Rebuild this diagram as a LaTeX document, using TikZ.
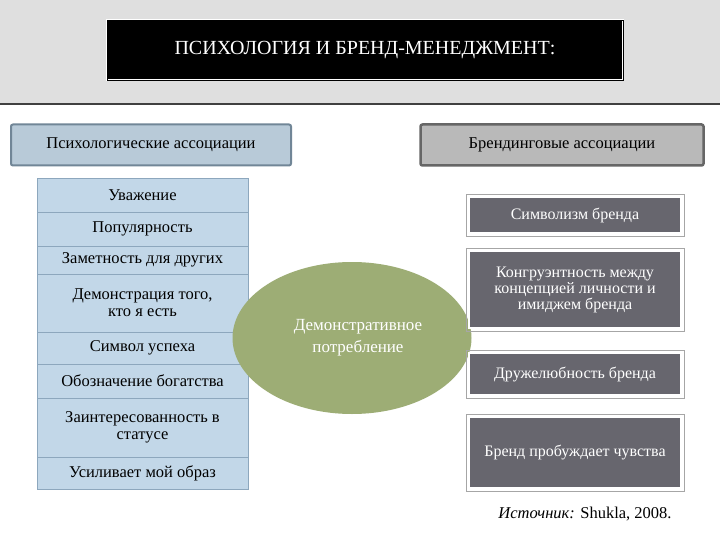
\documentclass[tikz,border=0pt]{standalone}
\usepackage{fontspec}
\setmainfont{Liberation Serif}
\usetikzlibrary{shapes.geometric}
\begin{document}
\begin{tikzpicture}[x=1pt,y=-1pt,
  row/.style={draw=bord,fill=lblue,minimum width=211pt,inner sep=0pt,align=center,font=\fontsize{16.5}{17}\selectfont},
  rbox/.style={draw=white,line width=1.5pt,fill=dgray,text=white,minimum width=212pt,inner sep=0pt,align=center,font=\fontsize{16}{16}\selectfont},
  rout/.style={draw=gray!70,line width=0.6pt}]
\definecolor{lblue}{HTML}{C2D7E8}
\definecolor{bord}{HTML}{8DA7BD}
\definecolor{dgray}{HTML}{67666E}
\definecolor{olive}{HTML}{9DAD75}
\useasboundingbox (0,0) rectangle (720,540);
\fill[white] (0,0) rectangle (720,540);
\fill[gray!25] (0,0) rectangle (720,103);
\draw[line width=2.5pt,black!75] (0,104) -- (720,104);
\node[fill=black,draw=white,double=black,minimum width=516pt,minimum height=60pt,text=white,font=\fontsize{20}{22}\selectfont] (title) at (365,50) {ПСИХОЛОГИЯ И БРЕНД-МЕНЕДЖМЕНТ:};
\node[fill=lblue!85!gray,draw=bord!80!black,line width=2pt,rounded corners=2pt,minimum width=280pt,minimum height=41pt,font=\fontsize{16.5}{17}\selectfont] (hl) at (151,145) {Психологические ассоциации};
\node[fill=gray!55,draw=black!60,line width=2.5pt,rounded corners=2pt,minimum width=283pt,minimum height=41pt,font=\fontsize{16.5}{17}\selectfont] (hr) at (562,145) {Брендинговые ассоциации};
\node[row,minimum height=34pt] (l1) at (142.5,195) {Уважение};
\node[row,minimum height=34pt] (l2) at (142.5,229) {Популярность};
\node[row,minimum height=28pt] (l3) at (142.5,260) {Заметность для других};
\node[row,minimum height=58pt] (l4) at (142.5,303) {Демонстрация того,\\ кто я есть};
\node[row,minimum height=32pt] (l5) at (142.5,348) {Символ успеха};
\node[row,minimum height=34pt] (l6) at (142.5,381) {Обозначение богатства};
\node[row,minimum height=59pt] (l7) at (142.5,427.5) {Заинтересованность в\\ статусе};
\node[row,minimum height=32pt] (l8) at (142.5,473) {Усиливает мой образ};
\node[ellipse,fill=olive,minimum width=239pt,minimum height=152pt,text=white,align=center,font=\fontsize{17}{22}\selectfont,inner sep=0pt] (e) at (352,338) {\hspace*{12pt}Демонстративное\\\hspace*{12pt}потребление};
\draw[rout] (466,194) rectangle (684,236);
\node[rbox,minimum height=36pt] (r1) at (575,215) {Символизм бренда};
\draw[rout] (466,248) rectangle (684,331);
\node[rbox,minimum height=77pt] (r2) at (575,289.5) {Конгруэнтность между\\концепцией личности и\\имиджем бренда};
\draw[rout] (466,350) rectangle (684,398);
\node[rbox,minimum height=42pt] (r3) at (575,374) {Дружелюбность бренда};
\draw[rout] (466,414) rectangle (684,491);
\node[rbox,minimum height=71pt] (r4) at (575,452.5) {Бренд пробуждает чувства};
\node[font=\fontsize{16.5}{17}\selectfont] (src) at (585,514) {\textit{Источник:} Shukla, 2008.};
\end{tikzpicture}
\end{document}
